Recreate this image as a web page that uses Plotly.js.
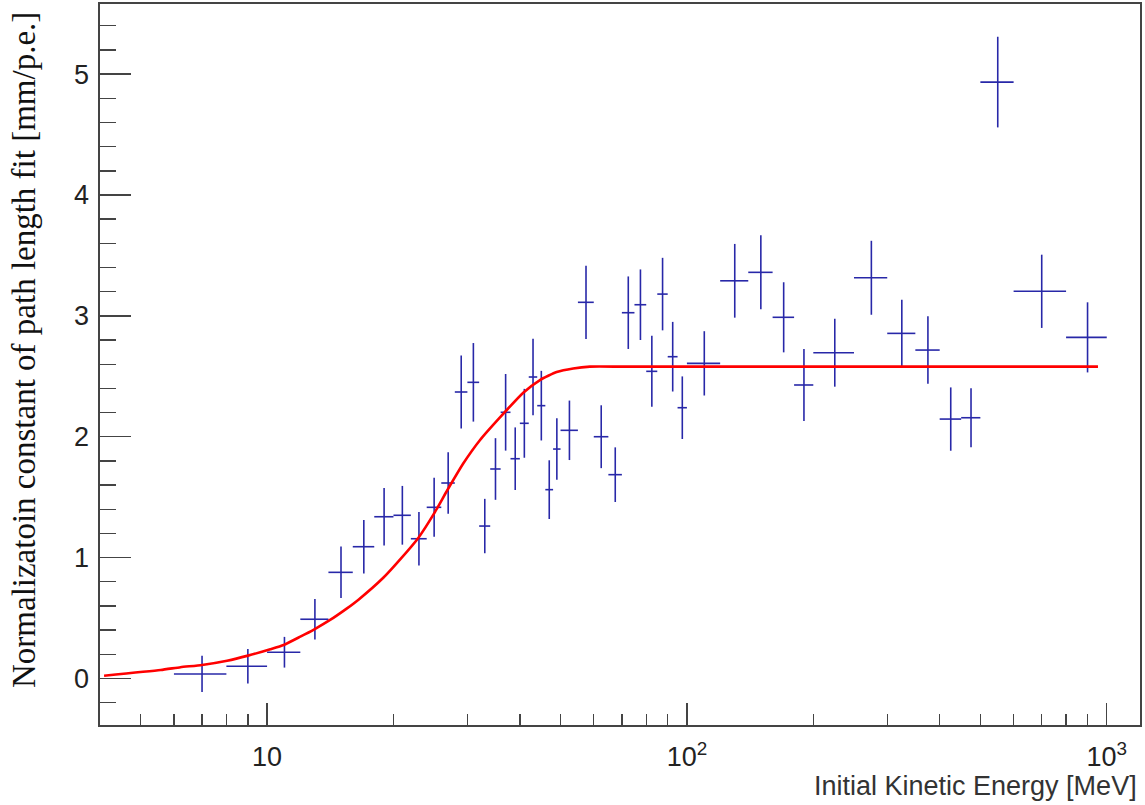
<!DOCTYPE html>
<html>
<head>
<meta charset="utf-8">
<script src="https://cdn.plot.ly/plotly-3.0.1.min.js"></script>
<style>html,body{margin:0;padding:0;background:#fff;}#chart{width:1145px;height:805px;}</style>
</head>
<body>
<div id="chart"></div>
<script>
// Bin centres [MeV]
const energy = [7, 9, 11, 13, 15, 17, 19, 21, 23, 25, 27, 29, 31, 33, 35, 37, 39, 41, 43, 45, 47, 49,
  52.5, 57.5, 62.5, 67.5, 72.5, 77.5, 82.5, 87.5, 92.5, 97.5,
  110, 130, 150, 170, 190,
  225, 275, 325, 375, 425, 475,
  550, 700, 900];
// Half bin widths [MeV]
const binHalfWidth = [1, 1, 1, 1, 1, 1, 1, 1, 1, 1, 1, 1, 1, 1, 1, 1, 1, 1, 1, 1, 1, 1,
  2.5, 2.5, 2.5, 2.5, 2.5, 2.5, 2.5, 2.5, 2.5, 2.5,
  10, 10, 10, 10, 10,
  25, 25, 25, 25, 25, 25,
  50, 100, 100];
// Normalization constant [mm/p.e.]
const normConst = [0.037, 0.101, 0.217, 0.49, 0.878, 1.090, 1.338, 1.350, 1.156, 1.416, 1.617, 2.370, 2.450, 1.261, 1.733, 2.202, 1.818, 2.111, 2.494, 2.257, 1.562, 1.898,
  2.053, 3.112, 2.0, 1.686, 3.026, 3.092, 2.541, 3.180, 2.662, 2.240,
  2.607, 3.290, 3.360, 2.988, 2.428,
  2.695, 3.315, 2.855, 2.717, 2.146, 2.157,
  4.934, 3.203, 2.822];
const normErr = [0.15, 0.143, 0.127, 0.168, 0.213, 0.222, 0.238, 0.243, 0.222, 0.244, 0.255, 0.302, 0.325, 0.225, 0.255, 0.317, 0.259, 0.285, 0.316, 0.288, 0.243, 0.255,
  0.246, 0.303, 0.26, 0.226, 0.30, 0.292, 0.294, 0.30, 0.288, 0.259,
  0.266, 0.305, 0.306, 0.29, 0.298,
  0.281, 0.306, 0.279, 0.279, 0.262, 0.245,
  0.375, 0.303, 0.29];
// Fit curve
const fitEnergy = [4.09, 5.58, 6.22, 7.0, 8.03, 9.01, 10.18, 10.95, 12.0, 12.96, 14.13, 15.5, 16.51, 18.94, 20.75, 22.94, 25.0, 26.89, 29.35, 32.16, 35.87, 40.76, 44.67, 48.94, 53.6, 58.75, 70, 100, 300, 953];
const fitValue = [0.023, 0.07, 0.093, 0.112, 0.147, 0.189, 0.242, 0.277, 0.346, 0.407, 0.484, 0.58, 0.652, 0.835, 0.985, 1.165, 1.366, 1.559, 1.78, 1.973, 2.16, 2.364, 2.469, 2.535, 2.565, 2.58, 2.58, 2.58, 2.58, 2.58];

const xMajor = [10, 100, 1000];
const xMajorText = ['10', '10<sup>2</sup>', '10<sup>3</sup>'];
const xMinor = [5, 6, 7, 8, 9, 20, 30, 40, 50, 60, 70, 80, 90, 200, 300, 400, 500, 600, 700, 800, 900];

const blue = 'rgb(40,40,168)';
const traces = [
  {
    type: 'scatter', mode: 'markers',
    x: energy, y: normConst,
    marker: {size: 1, color: 'rgba(0,0,0,0)'},
    error_x: {type: 'data', array: binHalfWidth, arrayminus: binHalfWidth, symmetric: false, width: 0, thickness: 1.6, color: blue},
    error_y: {type: 'data', array: normErr, width: 0, thickness: 1.6, color: blue},
    hoverinfo: 'x+y', showlegend: false
  },
  {
    type: 'scatter', mode: 'lines',
    x: fitEnergy, y: fitValue,
    line: {color: '#ff0000', width: 2.6, shape: 'spline', smoothing: 0.5},
    showlegend: false
  }
];

const axisColor = '#444';
const layout = {
  width: 1145, height: 805,
  margin: {l: 100, r: 5, t: 4, b: 80, pad: 0},
  paper_bgcolor: '#fff', plot_bgcolor: '#fff',
  font: {family: '"Liberation Sans", Arial, Helvetica, sans-serif', color: '#222'},
  xaxis: {
    type: 'log',
    range: [Math.log10(4.0), Math.log10(1200)],
    showgrid: false, zeroline: false,
    showline: true, mirror: true, linecolor: axisColor, linewidth: 1.6,
    ticks: 'inside', ticklen: 22, tickwidth: 1.4, tickcolor: axisColor,
    tickmode: 'array', tickvals: xMajor, ticktext: xMajorText,
    tickfont: {size: 27, color: '#222'},
    ticklabelstandoff: 7,
    minor: {ticks: 'inside', ticklen: 11, tickwidth: 1.4, tickcolor: axisColor, tickmode: 'array', tickvals: xMinor, showgrid: false}
  },
  yaxis: {
    range: [-0.385, 5.58],
    showgrid: false, zeroline: false,
    showline: true, mirror: true, linecolor: axisColor, linewidth: 1.6,
    ticks: 'inside', ticklen: 31, tickwidth: 1.4, tickcolor: axisColor,
    tickmode: 'linear', tick0: 0, dtick: 1,
    tickfont: {size: 27, color: '#222'},
    ticklabelstandoff: 4,
    minor: {ticks: 'inside', ticklen: 16, tickwidth: 1.4, tickcolor: axisColor, tick0: 0, dtick: 0.2, showgrid: false}
  },
  annotations: [
    {
      text: 'Normalizatoin constant of path length fit [mm/p.e.]',
      xref: 'paper', yref: 'paper',
      x: (24 - 100) / 1040, y: (725 - 350) / 721,
      xanchor: 'center', yanchor: 'middle',
      textangle: -90, showarrow: false,
      font: {family: '"Liberation Serif", "Times New Roman", serif', size: 33, color: '#111'}
    },
    {
      text: 'Initial Kinetic Energy [MeV]',
      xref: 'paper', yref: 'paper',
      x: (1139 - 100) / 1040, y: (725 - 786) / 721,
      xanchor: 'right', yanchor: 'middle',
      showarrow: false,
      font: {family: '"Liberation Sans", Arial, Helvetica, sans-serif', size: 27, color: '#333'}
    }
  ]
};

Plotly.newPlot('chart', traces, layout, {displayModeBar: false, staticPlot: true});
</script>
</body>
</html>
